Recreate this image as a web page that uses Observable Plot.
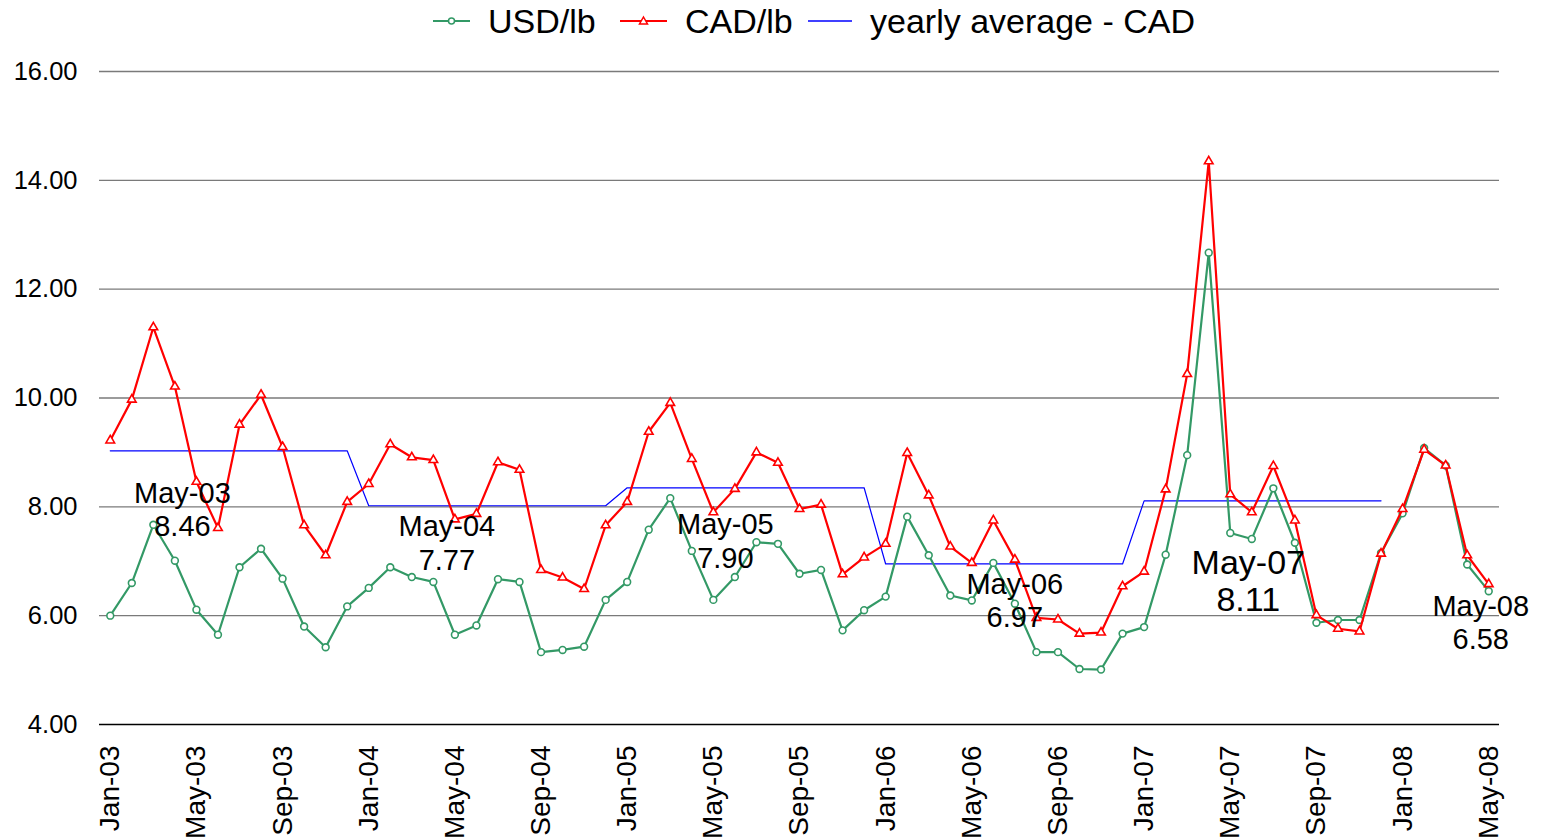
<!DOCTYPE html>
<html><head><meta charset="utf-8">
<script src="https://cdn.jsdelivr.net/npm/d3@7"></script>
<script src="https://cdn.jsdelivr.net/npm/@observablehq/plot@0.6"></script>
<style>
body{margin:0;background:#fff;font-family:"Liberation Sans",Arial,sans-serif;}
#legend{position:relative;height:45px;width:1546px;}
.item{position:absolute;top:0;height:42px;display:flex;align-items:center;font-size:34px;color:#000;white-space:nowrap;}
.item svg{margin-right:18px;}
</style></head><body>
<div id="legend"></div>
<div id="chart"></div>
<script>
// ---- data ----
const months = [
  "Jan-03","Feb-03","Mar-03","Apr-03","May-03","Jun-03","Jul-03","Aug-03","Sep-03","Oct-03","Nov-03","Dec-03",
  "Jan-04","Feb-04","Mar-04","Apr-04","May-04","Jun-04","Jul-04","Aug-04","Sep-04","Oct-04","Nov-04","Dec-04",
  "Jan-05","Feb-05","Mar-05","Apr-05","May-05","Jun-05","Jul-05","Aug-05","Sep-05","Oct-05","Nov-05","Dec-05",
  "Jan-06","Feb-06","Mar-06","Apr-06","May-06","Jun-06","Jul-06","Aug-06","Sep-06","Oct-06","Nov-06","Dec-06",
  "Jan-07","Feb-07","Mar-07","Apr-07","May-07","Jun-07","Jul-07","Aug-07","Sep-07","Oct-07","Nov-07","Dec-07",
  "Jan-08","Feb-08","Mar-08","Apr-08","May-08"
];
const usdPerLb = [
  6.00, 6.60, 7.67, 7.01, 6.11, 5.65, 6.89, 7.23, 6.68, 5.80, 5.42, 6.17,
  6.51, 6.89, 6.71, 6.62, 5.65, 5.82, 6.67, 6.62, 5.33, 5.37, 5.43, 6.29,
  6.62, 7.58, 8.16, 7.19, 6.29, 6.71, 7.35, 7.32, 6.77, 6.84, 5.73, 6.10,
  6.35, 7.82, 7.11, 6.37, 6.28, 6.97, 6.22, 5.33, 5.33, 5.02, 5.01, 5.67,
  5.79, 7.12, 8.95, 12.67, 7.52, 7.41, 8.34, 7.34, 5.87, 5.92, 5.92, 7.15,
  7.88, 9.08, 8.76, 6.94, 6.45
];
const cadPerLb = [
  9.22, 9.97, 11.30, 10.21, 8.46, 7.61, 9.51, 10.06, 9.10, 7.66, 7.11, 8.09,
  8.42, 9.15, 8.91, 8.86, 7.77, 7.87, 8.82, 8.68, 6.84, 6.70, 6.49, 7.66,
  8.09, 9.38, 9.91, 8.88, 7.90, 8.33, 9.00, 8.81, 7.96, 8.04, 6.76, 7.07,
  7.32, 8.99, 8.21, 7.27, 6.97, 7.75, 7.03, 5.96, 5.93, 5.67, 5.69, 6.54,
  6.81, 8.32, 10.44, 14.35, 8.23, 7.90, 8.75, 7.75, 6.01, 5.76, 5.71, 7.14,
  7.96, 9.05, 8.76, 7.11, 6.58
];
const avgYears = ["03", "04", "05", "06", "07"];
const avgCAD = [9.03, 8.02, 8.35, 6.95, 8.11];
const noteMonths = ["May-03", "May-04", "May-05", "May-06", "May-07", "May-08"];
const noteValues = [8.46, 7.77, 7.90, 6.97, 8.11, 6.58];
const xTicks = ["Jan-03","May-03","Sep-03","Jan-04","May-04","Sep-04","Jan-05","May-05","Sep-05",
  "Jan-06","May-06","Sep-06","Jan-07","May-07","Sep-07","Jan-08","May-08"];
const yTicks = [4, 6, 8, 10, 12, 14, 16];
const seriesNames = ["USD/lb", "CAD/lb", "yearly average - CAD"];

// ---- layout (label placement, not data) ----
const noteLayout = [
  {dx: -14, dy: 27, size: 29, lh: 1.15},
  {dx: -8, dy: 23, size: 29, lh: 1.15},
  {dx: 12, dy: 28, size: 29, lh: 1.15},
  {dx: 43, dy: 37, size: 29, lh: 1.15},
  {dx: 18, dy: 80, size: 34, lh: 1.07},
  {dx: -8, dy: 38, size: 29, lh: 1.15}
];
const GREEN = "#339966", RED = "#ff0000", BLUE = "#0000ff";

const usdRows = months.map((m, i) => ({month: m, value: usdPerLb[i]}));
const cadRows = months.map((m, i) => ({month: m, value: cadPerLb[i]}));
const avgRows = months
  .filter(m => avgYears.includes(m.slice(4)))
  .map(m => ({month: m, value: avgCAD[avgYears.indexOf(m.slice(4))]}));
const notes = noteMonths.map((m, i) => ({month: m, value: noteValues[i], text: m + "\n" + noteValues[i].toFixed(2)}));

// ---- legend ----
const legend = document.getElementById("legend");
const legendPos = [433, 620, 808];
const swatches = [
  `<svg width="37" height="20"><line x1="0" y1="10" x2="37" y2="10" stroke="${GREEN}" stroke-width="2"/><circle cx="18.5" cy="10" r="3" fill="white" stroke="${GREEN}" stroke-width="1.5"/></svg>`,
  `<svg width="47" height="20"><line x1="0" y1="10" x2="47" y2="10" stroke="${RED}" stroke-width="2"/><path d="M23.5,6 L27.5,13 L19.5,13 Z" fill="white" stroke="${RED}" stroke-width="1.5"/></svg>`,
  `<svg width="44" height="20"><line x1="0" y1="10" x2="44" y2="10" stroke="${BLUE}" stroke-width="1.5"/></svg>`
];
seriesNames.forEach((name, i) => {
  const d = document.createElement("div");
  d.className = "item";
  d.style.left = legendPos[i] + "px";
  d.innerHTML = swatches[i] + `<span>${name}</span>`;
  legend.appendChild(d);
});

// ---- chart ----
const chart = Plot.plot({
  width: 1546,
  height: 794,
  marginTop: 26,
  marginBottom: 115,
  marginLeft: 99,
  marginRight: 47,
  style: {fontFamily: "Liberation Sans, Arial, sans-serif", background: "white", color: "black", overflow: "visible"},
  x: {type: "point", domain: months, padding: 0.5, label: null},
  y: {domain: [4, 16], label: null},
  marks: [
    Plot.gridY(yTicks.filter(d => d > 4), {stroke: "#7a7a7a", strokeOpacity: 1, strokeWidth: 1.3}),
    Plot.ruleY([4], {stroke: "#000", strokeWidth: 1.5}),
    Plot.axisY(yTicks, {tickSize: 0, tickPadding: 22, fontSize: 25.5, tickFormat: d3.format(".2f"), label: null}),
    Plot.axisX(xTicks, {tickSize: 0, tickRotate: -90, tickPadding: 21, fontSize: 28, label: null}),
    Plot.line(avgRows, {x: "month", y: "value", stroke: BLUE, strokeWidth: 1.2}),
    Plot.line(usdRows, {x: "month", y: "value", stroke: GREEN, strokeWidth: 2.2}),
    Plot.dot(usdRows, {x: "month", y: "value", r: 3.4, stroke: GREEN, fill: "white", strokeWidth: 1.6}),
    Plot.line(cadRows, {x: "month", y: "value", stroke: RED, strokeWidth: 2.2}),
    Plot.dot(cadRows, {x: "month", y: "value", symbol: "triangle", r: 3.2, stroke: RED, fill: "white", strokeWidth: 1.6}),
    ...notes.map((n, i) => Plot.text([n], {
      x: "month", y: "value", text: "text",
      dx: noteLayout[i].dx, dy: noteLayout[i].dy,
      fontSize: noteLayout[i].size, lineHeight: noteLayout[i].lh,
      lineAnchor: "middle", textAnchor: "middle", fill: "black"
    }))
  ]
});
document.getElementById("chart").appendChild(chart);
</script>
</body></html>
